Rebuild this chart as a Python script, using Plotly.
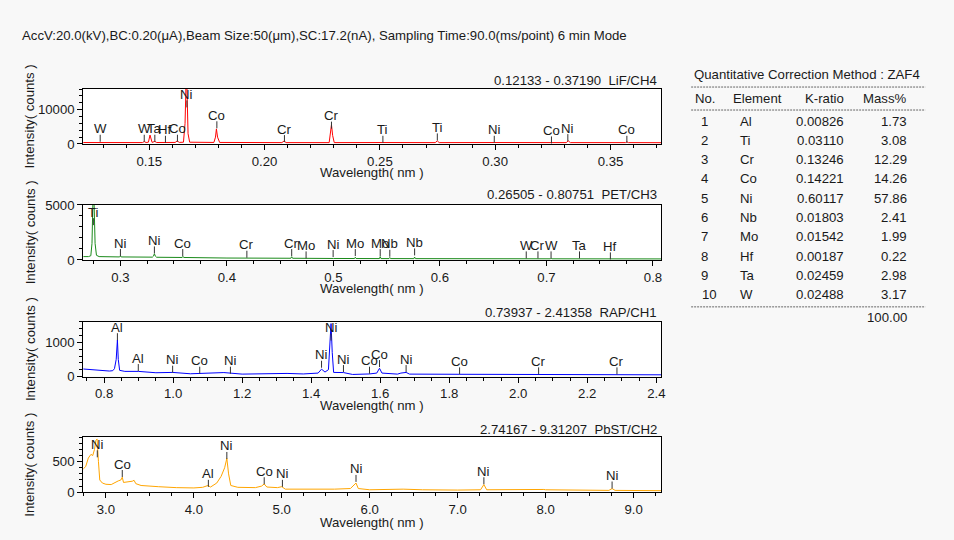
import plotly.graph_objects as go

W, H = 954, 540
FONT = "Liberation Sans, Arial, sans-serif"
FS = 13.2
TXT = "#1a1a1a"

header = "AccV:20.0(kV),BC:0.20(\u03bcA),Beam Size:50(\u03bcm),SC:17.2(nA), Sampling Time:90.0(ms/point) 6 min Mode"

# ---------------- Spectrum data ----------------
lif_x = [0.1213, 0.1280, 0.1287, 0.1294, 0.1340, 0.1345, 0.1350, 0.1470, 0.1478, 0.1486,
         0.1496, 0.1503, 0.1512, 0.1524, 0.1532, 0.1570, 0.1612, 0.1621, 0.1630, 0.1648,
         0.1655, 0.1659, 0.1663, 0.1668, 0.1675, 0.1780, 0.1787, 0.1791, 0.1796, 0.1805,
         0.2075, 0.2085, 0.2093, 0.2280, 0.2285, 0.2290, 0.2295, 0.2302, 0.2513, 0.2740,
         0.2749, 0.2757, 0.2996, 0.3244, 0.3308, 0.3317, 0.3326, 0.3565, 0.3571, 0.3578, 0.3719]
lif_y = [420, 390, 560, 390, 400, 450, 400, 410, 700, 430,
         520, 2600, 460, 750, 430, 420, 450, 900, 460, 520,
         6000, 17000, 17000, 3000, 520, 450, 2000, 4400, 2000, 450,
         400, 900, 400, 400, 2500, 5600, 2500, 400, 420, 400,
         900, 400, 420, 400, 400, 900, 400, 400, 620, 400, 380]

pet_x = [0.2651, 0.2700, 0.2722, 0.2733, 0.2742, 0.2752, 0.2762, 0.2775, 0.2800, 0.2993,
         0.3000, 0.3007, 0.3300, 0.3310, 0.3319, 0.3328, 0.3340, 0.3580, 0.3587, 0.3594,
         0.4000, 0.4187, 0.4600, 0.4608, 0.4616, 0.5000, 0.5198, 0.5205, 0.5212, 0.5432,
         0.5439, 0.5446, 0.5522, 0.5529, 0.5536, 0.5755, 0.5762, 0.5769, 0.6000, 0.7036,
         0.7043, 0.7050, 0.8075]
pet_y = [300, 300, 380, 1500, 5400, 5400, 1500, 420, 300, 270,
         360, 270, 250, 340, 560, 340, 240, 220, 320, 220,
         170, 160, 150, 290, 150, 130, 125, 240, 125, 120,
         300, 120, 120, 220, 120, 115, 260, 115, 110, 100,
         160, 100, 90]

rap_x = [0.7394, 0.7500, 0.7700, 0.7900, 0.8000, 0.8150, 0.8250, 0.8300, 0.8350, 0.8385,
         0.8410, 0.8450, 0.8600, 0.8990, 0.9500, 0.9985, 1.0500, 1.1470, 1.2000, 1.3300,
         1.3770, 1.4200, 1.4300, 1.4400, 1.4500, 1.4540, 1.4575, 1.4610, 1.4650, 1.4935,
         1.5200, 1.5690, 1.5900, 1.5980, 1.6050, 1.6500, 1.6600, 1.6750, 1.6850, 1.8300,
         2.0590, 2.2860, 2.4136]
rap_y = [220, 210, 190, 175, 180, 160, 170, 230, 500, 1070,
         500, 180, 150, 150, 110, 120, 80, 115, 70, 90,
         75, 100, 215, 130, 200, 800, 1550, 700, 120, 115,
         60, 75, 100, 240, 100, 70, 100, 120, 70, 65,
         60, 60, 50]

pbst_x = [2.742, 2.770, 2.800, 2.830, 2.850, 2.870, 2.885, 2.900, 2.915, 2.930,
          2.960, 3.000, 3.060, 3.100, 3.140, 3.170, 3.186, 3.200, 3.250, 3.300,
          3.320, 3.340, 3.400, 3.500, 3.600, 3.800, 4.000, 4.100, 4.160, 4.190,
          4.260, 4.310, 4.350, 4.375, 4.395, 4.420, 4.500, 4.700, 4.770, 4.800,
          4.830, 4.950, 5.000, 5.040, 5.300, 5.600, 5.780, 5.820, 5.844, 5.870,
          6.000, 6.380, 6.600, 7.000, 7.260, 7.298, 7.330, 7.980, 8.000, 8.720,
          8.756, 8.790, 9.312]
pbst_y = [380, 420, 560, 620, 600, 700, 850, 870, 500, 200,
          150, 130, 125, 160, 185, 200, 245, 160, 165, 180,
          195, 140, 110, 95, 90, 75, 70, 80, 110, 85,
          150, 260, 400, 555, 300, 110, 80, 75, 100, 135,
          85, 75, 90, 50, 45, 50, 60, 120, 150, 60,
          40, 50, 40, 35, 40, 125, 40, 45, 40, 30,
          60, 30, 25]

# ---------------- Peak labels (element, x, marker height) ----------------
lif_lab = ["W", "W", "Ta", "Hf", "Co", "Ni", "Co", "Cr", "Cr", "Ti", "Ti", "Ni", "Co", "Ni", "Co"]
lif_lx = [0.1287, 0.1478, 0.1524, 0.1570, 0.1622, 0.1663, 0.1793, 0.2086, 0.2290, 0.2513,
          0.2749, 0.2996, 0.3244, 0.3315, 0.3571]
lif_ly = [1670, 1670, 1670, 1370, 1670, 11670, 5590, 1570, 5490, 1370,
          2060, 1370, 1180, 1860, 1370]

pet_lab = ["Ti", "Ni", "Ni", "Co", "Cr", "Cr", "Mo", "Ni", "Mo", "Mo", "Nb", "Nb", "W", "Cr", "W", "Ta", "Hf"]
pet_lx = [0.2746, 0.3000, 0.3319, 0.3585, 0.4187, 0.4608, 0.4743, 0.4997, 0.5205, 0.5439,
          0.5529, 0.5762, 0.6810, 0.6920, 0.7043, 0.7310, 0.7600]
pet_ly = [3480, 667, 909, 667, 515, 667, 455, 576, 667, 667,
          606, 727, 455, 455, 455, 455, 364]

rap_lab = ["Al", "Al", "Ni", "Co", "Ni", "Ni", "Ni", "Ni", "Co", "Co", "Ni", "Co", "Cr", "Cr"]
rap_lx = [0.8385, 0.899, 0.9985, 1.077, 1.166, 1.430, 1.4575, 1.4935, 1.569, 1.598,
          1.675, 1.830, 2.059, 2.286]
rap_ly = [1165, 262, 214, 184, 184, 359, 1155, 233, 184, 379,
          233, 165, 165, 165]

pbst_lab = ["Ni", "Co", "Al", "Ni", "Co", "Ni", "Ni", "Ni", "Ni"]
pbst_lx = [2.902, 3.186, 4.165, 4.375, 4.800, 5.007, 5.844, 7.298, 8.756]
pbst_ly = [629, 306, 145, 602, 188, 145, 226, 188, 118]

# ---------------- Axis setup ----------------
ranges_x = [[0.12133, 0.37190], [0.26505, 0.80751], [0.73937, 2.41358], [2.74167, 9.31207]]
ranges_y = [[0, 16000], [0, 5000], [0, 1600], [0, 900]]
channel_text = ["0.12133 - 0.37190\u00a0 LiF/CH4", "0.26505 - 0.80751\u00a0 PET/CH3",
                "0.73937 - 2.41358\u00a0 RAP/CH1", "2.74167 - 9.31207\u00a0 PbST/CH2"]
x_dtick = [0.05, 0.1, 0.2, 1.0]
x_minor = [0.01, 0.025, 0.05, 0.25]
x_fmt = [".2f", ".1f", ".1f", ".1f"]
y_dtick = [10000, 5000, 1000, 500]
y_minor = [2000, 1000, 200, 100]
colors = ["#ff0000", "#1a8a1a", "#0000ff", "#ffa500"]

# pixel layout of plot areas (as measured on the reference picture)
plot_left, plot_right = 85, 660
plot_tops = [89, 205, 322, 437.5]
plot_bots = [144, 260, 376.7, 492.5]
chan_y = [80, 195, 313, 430]
wave_y = [173, 289, 406, 523]

# reference pixel -> paper fraction (compensates the rendered page scale)
def fx(p):
    return ((p - 2.2) / 0.991) / W

def fy(p):
    return 1 - ((p - 6.9) / 0.973) / H

spectra = [(lif_x, lif_y), (pet_x, pet_y), (rap_x, rap_y), (pbst_x, pbst_y)]
labels = [(lif_lab, lif_lx, lif_ly), (pet_lab, pet_lx, pet_ly),
          (rap_lab, rap_lx, rap_ly), (pbst_lab, pbst_lx, pbst_ly)]

fig = go.Figure()
annotations = []
shapes = []
layout_axes = {}

def tfont():
    return dict(size=FS, color=TXT, family=FONT)

for i in range(4):
    n = "" if i == 0 else str(i + 1)
    xa, ya = "x" + n, "y" + n
    sx, sy = spectra[i]
    fig.add_trace(go.Scatter(x=sx, y=sy, mode="lines", xaxis=xa, yaxis=ya,
                             line=dict(color=colors[i], width=1), hoverinfo="skip",
                             showlegend=False))
    lab, lx, ly = labels[i]
    fig.add_trace(go.Scatter(x=lx, y=ly, mode="markers", xaxis=xa, yaxis=ya,
                             marker=dict(symbol="line-ns", size=5,
                                         line=dict(color="#333333", width=1)),
                             hoverinfo="skip", showlegend=False))
    for t, xv, yv in zip(lab, lx, ly):
        annotations.append(dict(x=xv, y=yv, xref=xa, yref=ya, text=t, showarrow=False,
                                yanchor="bottom", xanchor="center", yshift=0,
                                font=tfont()))
    axis_common = dict(showline=True, linecolor="#000", linewidth=1, mirror=True,
                       ticks="outside", tickcolor="#000", ticklen=5, showgrid=False,
                       zeroline=False, tickfont=tfont())
    layout_axes["xaxis" + n] = dict(axis_common, domain=[fx(plot_left), fx(plot_right)],
                                    anchor=ya, range=ranges_x[i], dtick=x_dtick[i], tick0=0,
                                    tickformat=x_fmt[i],
                                    minor=dict(ticks="outside", ticklen=3, dtick=x_minor[i],
                                               tick0=0, tickcolor="#000", showgrid=False))
    layout_axes["yaxis" + n] = dict(axis_common, domain=[fy(plot_bots[i]), fy(plot_tops[i])],
                                    anchor=xa, range=ranges_y[i], dtick=y_dtick[i], tick0=0,
                                    tickformat="d",
                                    minor=dict(ticks="outside", ticklen=3, dtick=y_minor[i],
                                               tick0=0, tickcolor="#000", showgrid=False))
    mid = (plot_tops[i] + plot_bots[i]) / 2
    annotations.append(dict(x=fx(32), y=fy(mid), xref="paper", yref="paper",
                            text="Intensity( counts )", textangle=-90, showarrow=False,
                            xanchor="center", yanchor="middle", font=tfont()))
    annotations.append(dict(x=fx((plot_left + plot_right) / 2), y=fy(wave_y[i]),
                            xref="paper", yref="paper", text="Wavelength( nm )",
                            showarrow=False, xanchor="center", yanchor="middle",
                            font=tfont()))
    annotations.append(dict(x=fx(658), y=fy(chan_y[i]), xref="paper", yref="paper",
                            text=channel_text[i], showarrow=False, xanchor="right",
                            yanchor="middle", font=tfont()))

# header
annotations.append(dict(x=fx(22), y=fy(35), xref="paper", yref="paper", text=header,
                        showarrow=False, xanchor="left", yanchor="middle", font=tfont()))

# ---------------- Quantitative table ----------------
tbl_title = "Quantitative Correction Method : ZAF4"
tbl_no = ["1", "2", "3", "4", "5", "6", "7", "8", "9", "10"]
tbl_elem = ["Al", "Ti", "Cr", "Co", "Ni", "Nb", "Mo", "Hf", "Ta", "W"]
tbl_k = ["0.00826", "0.03110", "0.13246", "0.14221", "0.60117", "0.01803", "0.01542",
         "0.00187", "0.02459", "0.02488"]
tbl_mass = ["1.73", "3.08", "12.29", "14.26", "57.86", "2.41", "1.99", "0.22", "2.98", "3.17"]
tbl_total = "100.00"

def tann(x, y, text, anchor):
    annotations.append(dict(x=fx(x), y=fy(y), xref="paper", yref="paper", text=text,
                            showarrow=False, xanchor=anchor, yanchor="middle", font=tfont()))

tann(691, 74, tbl_title, "left")
tann(692, 98, "No.", "left")
tann(730, 98, "Element", "left")
tann(844, 98, "K-ratio", "right")
tann(907, 98, "Mass%", "right")
for r in range(len(tbl_no)):
    yy = 121 + r * 19.33
    tann(703 if len(tbl_no[r]) == 1 else 708, yy, tbl_no[r], "center")
    tann(737, yy, tbl_elem[r], "left")
    tann(844, yy, tbl_k[r], "right")
    tann(907, yy, tbl_mass[r], "right")
tann(907, 318, tbl_total, "right")

for yline in [87, 110, 307]:
    shapes.append(dict(type="line", xref="paper", yref="paper", x0=fx(690), x1=fx(923),
                       y0=fy(yline), y1=fy(yline),
                       line=dict(color="#666666", width=1, dash="2px,1px")))

fig.update_layout(width=W, height=H, margin=dict(l=0, r=0, t=0, b=0),
                  paper_bgcolor="#f8f8f8", plot_bgcolor="#ffffff",
                  annotations=annotations, shapes=shapes, showlegend=False,
                  font=dict(family=FONT, size=FS, color=TXT), **layout_axes)

fig.write_html("out.html", config={"displayModeBar": False},
               post_script="document.body.style.margin='0px';"
                           "document.body.style.overflow='hidden';"
                           "document.documentElement.style.overflow='hidden';")
